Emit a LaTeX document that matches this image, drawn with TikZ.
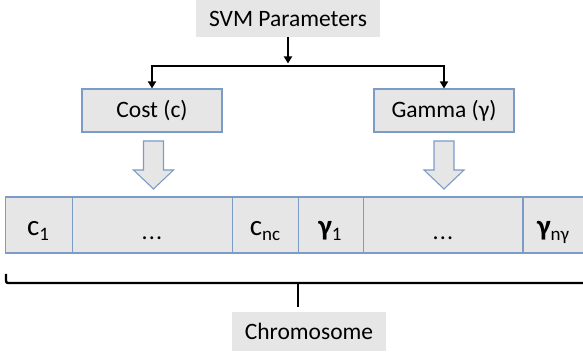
\documentclass[tikz,border=0pt]{standalone}
\usepackage{fontspec}
\setmainfont{Carlito}
\usetikzlibrary{arrows.meta}
\definecolor{boxgray}{RGB}{231,230,230}
\definecolor{edgeblue}{RGB}{124,156,200}
\tikzset{
  plain/.style={fill=boxgray, draw=none, inner sep=0pt, font=\fontsize{23.5}{26}\selectfont},
  param/.style={fill=boxgray, draw=edgeblue, line width=1.1pt, inner sep=0pt,
    minimum width=140pt, minimum height=43pt, font=\fontsize{23.5}{26}\selectfont},
  cell/.style={fill=boxgray, draw=edgeblue, line width=1.1pt, inner sep=0pt,
    minimum height=56pt, anchor=west},
  celltext/.style={anchor=base, inner sep=0pt, font=\fontsize{29}{31}\selectfont},
  dots/.style={anchor=base, inner sep=0pt, font=\fontsize{24}{26}\selectfont},
  conn/.style={line width=1.8pt, -{Triangle[width=8pt,length=7pt]}},
  blockarrow/.style={fill=boxgray, draw=edgeblue, line width=1.1pt, line join=miter},
  bracket/.style={line width=2.4pt, rounded corners=2pt},
}
\newcommand{\subsz}[1]{\raisebox{-5pt}{\fontsize{19}{20}\selectfont #1}}
\newcommand{\celldots}{.\kern1.2pt.\kern1.2pt.}
\begin{document}
\begin{tikzpicture}[x=1pt, y=-1pt]
  \useasboundingbox (0,0) rectangle (583,352);

  % top-level label and the two parameter boxes
  \node[plain, minimum width=184pt, minimum height=37pt] (svm) at (288,18.5) {SVM Parameters};
  \node[param] (cost) at (152,110.5) {Cost (c)};
  \node[param] (gamma) at (444,110.5) {Gamma (γ)};

  % split connector
  \coordinate (jn) at (288,66);
  \draw[conn] (svm.south) -- (288,63.5);
  \draw[conn] (jn) -| (cost.north);
  \draw[conn] (jn) -| (gamma.north);

  % block arrows down into the chromosome
  \foreach \bx in {153.5,444} {
    \draw[blockarrow] (\bx-10,141) -- (\bx+10,141) -- (\bx+10,170) -- (\bx+20,170)
      -- (\bx,189) -- (\bx-20,170) -- (\bx-10,170) -- cycle;
  }

  % chromosome cells
  \node[cell, minimum width=67pt]  (k1) at (5,225) {};
  \node[cell, minimum width=160pt] (k2) at (72,225) {};
  \node[cell, minimum width=66pt]  (k3) at (232,225) {};
  \node[cell, minimum width=65pt]  (k4) at (298,225) {};
  \node[cell, minimum width=160pt] (k5) at (363,225) {};
  \fill[boxgray] (523,197) rectangle (583,253);
  \draw[edgeblue, line width=1.1pt] (583,197) -- (523,197) -- (523,253) -- (583,253);

  \node[celltext] (t1) at (38,236) {c\subsz{1}};
  \node[dots]     (t2) at (152,240) {\celldots};
  \node[celltext] (t3) at (265,236) {c\subsz{nc}};
  \node[celltext] (t4) at (330,236) {\textbf{γ}\subsz{1}};
  \node[dots]     (t5) at (443,240) {\celldots};
  \node[celltext] (t6) at (553,236) {\textbf{γ}\subsz{nγ}};

  % bracket under the chromosome
  \coordinate (brL) at (6,274);
  \coordinate (brR) at (583,283);
  \coordinate (brC) at (298,283);
  \draw[bracket] (brL) |- (brR);
  \node[plain, minimum width=154pt, minimum height=39pt] (chrom) at (309,331.5) {Chromosome};
  \draw[line width=2.4pt] (brC) -- (298,307);
\end{tikzpicture}
\end{document}
